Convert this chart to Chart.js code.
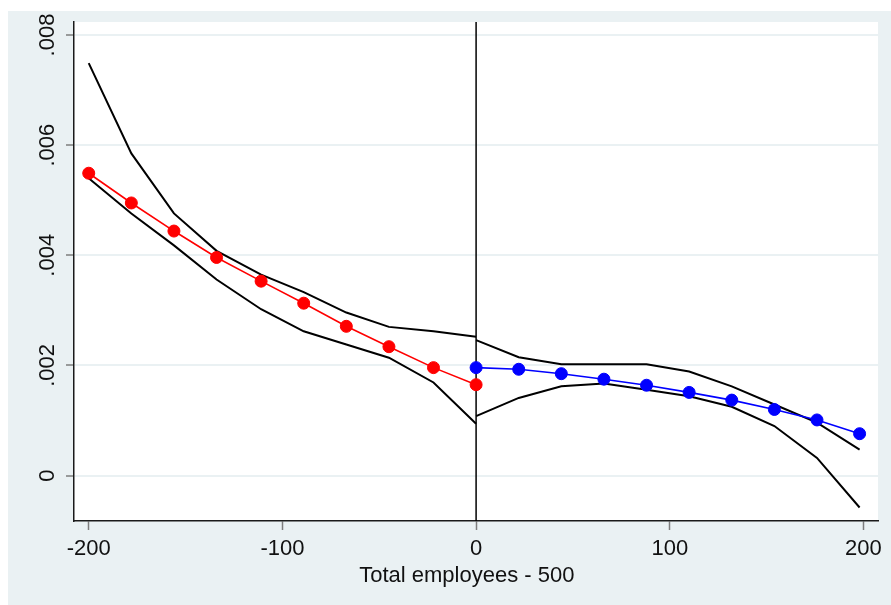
<!DOCTYPE html>
<html>
<head>
<meta charset="utf-8">
<script src="https://cdn.jsdelivr.net/npm/chart.js@4/dist/chart.umd.min.js"></script>
<style>
  html, body { margin: 0; padding: 0; background: #ffffff; }
  #wrap { width: 891px; height: 605px; }
</style>
</head>
<body>
<div id="wrap"><canvas id="c" width="891" height="605"></canvas></div>
<script>
// Bins below the threshold (employees - 500 < 0)
const leftX     = [-200, -178, -156, -134, -111, -89, -67, -45, -22, 0];
const leftMean  = [0.00549, 0.00495, 0.00444, 0.00396, 0.00353, 0.00313, 0.00271, 0.00234, 0.00196, 0.00165];
const leftUpper = [0.00749, 0.00585, 0.00476, 0.00408, 0.00365, 0.00333, 0.00296, 0.00270, 0.00262, 0.00252];
const leftLower = [0.00540, 0.00476, 0.00418, 0.00356, 0.00302, 0.00262, 0.00238, 0.00214, 0.00169, 0.00094];

// Bins above the threshold
const rightX     = [0, 22, 44, 66, 88, 110, 132, 154, 176, 198];
const rightMean  = [0.00196, 0.00193, 0.00185, 0.00175, 0.00164, 0.00151, 0.00137, 0.00120, 0.00101, 0.00076];
const rightUpper = [0.00246, 0.00215, 0.00202, 0.00202, 0.00202, 0.00189, 0.00162, 0.00129, 0.00096, 0.00047];
const rightLower = [0.00108, 0.00141, 0.00162, 0.00167, 0.00156, 0.00144, 0.00125, 0.00090, 0.00032, -0.00058];

// Axis ticks
const xTicks = [-200, -100, 0, 100, 200];
const yTicks = [0, 0.002, 0.004, 0.006, 0.008];
const yTickLabels = ['0', '.002', '.004', '.006', '.008'];

const cutoff = 0;

const panelColor = '#eaf1f3';
const FONT = 'Arial, "Liberation Sans", Helvetica, sans-serif';

const pts = (xs, ys) => xs.map((x, i) => ({ x: x, y: ys[i] }));

const backdrop = {
  id: 'backdrop',
  beforeDraw(chart) {
    const { ctx, chartArea: a } = chart;
    ctx.save();
    ctx.fillStyle = '#ffffff';
    ctx.fillRect(0, 0, chart.width, chart.height);
    ctx.fillStyle = panelColor;
    ctx.fillRect(8, 11, chart.width - 8, chart.height - 11);
    ctx.fillStyle = '#ffffff';
    ctx.fillRect(a.left, a.top, a.right - a.left, a.bottom - a.top);
    ctx.restore();
  }
};

const cutoffLine = {
  id: 'cutoffLine',
  beforeDatasetsDraw(chart) {
    const { ctx, chartArea: a, scales } = chart;
    const px = scales.x.getPixelForValue(cutoff);
    ctx.save();
    ctx.strokeStyle = '#000000';
    ctx.lineWidth = 1.5;
    ctx.beginPath();
    ctx.moveTo(px, a.top);
    ctx.lineTo(px, a.bottom);
    ctx.stroke();
    ctx.restore();
  }
};

const ciStyle = {
  borderColor: '#000000',
  borderWidth: 2,
  pointRadius: 0,
  showLine: true,
  fill: false,
  tension: 0,
  order: 2
};
const meanStyle = (c) => ({
  borderColor: c,
  backgroundColor: c,
  pointBackgroundColor: c,
  pointBorderColor: c,
  borderWidth: 1.6,
  pointRadius: 6,
  pointBorderWidth: 1,
  showLine: true,
  fill: false,
  tension: 0,
  order: 1
});

new Chart(document.getElementById('c'), {
  type: 'scatter',
  data: {
    datasets: [
      Object.assign({ label: 'mean below', data: pts(leftX, leftMean) }, meanStyle('#ff0000')),
      Object.assign({ label: 'mean above', data: pts(rightX, rightMean) }, meanStyle('#0000ff')),
      Object.assign({ label: 'upper below', data: pts(leftX, leftUpper) }, ciStyle),
      Object.assign({ label: 'lower below', data: pts(leftX, leftLower) }, ciStyle),
      Object.assign({ label: 'upper above', data: pts(rightX, rightUpper) }, ciStyle),
      Object.assign({ label: 'lower above', data: pts(rightX, rightLower) }, ciStyle)
    ]
  },
  options: {
    responsive: false,
    animation: false,
    devicePixelRatio: 1,
    layout: { padding: { left: 8, top: 22, right: 13, bottom: 0 } },
    plugins: {
      legend: { display: false },
      tooltip: { enabled: false },
      title: { display: false }
    },
    scales: {
      x: {
        type: 'linear',
        min: -207.6,
        max: 207.5,
        afterBuildTicks(scale) { scale.ticks = xTicks.map(v => ({ value: v })); },
        afterFit(scale) { scale.height = 84; },
        grid: {
          drawOnChartArea: false,
          drawTicks: true,
          tickLength: 9,
          tickColor: '#7d7d7d',
          tickWidth: 1.5
        },
        border: { display: true, color: '#1a1a1a', width: 1.5 },
        ticks: {
          color: '#111111',
          font: { family: FONT, size: 22 },
          padding: 6,
          maxRotation: 0,
          minRotation: 0,
          callback: (v) => String(v)
        },
        title: {
          display: true,
          text: 'Total employees - 500   ',
          color: '#111111',
          font: { family: FONT, size: 22 },
          padding: { top: 0, bottom: 16 }
        }
      },
      y: {
        type: 'linear',
        min: -0.000825,
        max: 0.008236,
        afterBuildTicks(scale) { scale.ticks = yTicks.map(v => ({ value: v })); },
        afterFit(scale) { scale.width = 66; },
        grid: {
          color: panelColor,
          lineWidth: 2,
          drawTicks: true,
          tickLength: 8,
          tickColor: '#7d7d7d',
          tickWidth: 1.5
        },
        border: { display: true, color: '#1a1a1a', width: 1.5 },
        ticks: {
          color: '#111111',
          font: { family: FONT, size: 22 },
          padding: -3,
          minRotation: 90,
          maxRotation: 90,
          crossAlign: 'center',
          callback: (v) => {
            const i = yTicks.indexOf(v);
            return i >= 0 ? yTickLabels[i] : '';
          }
        }
      }
    }
  },
  plugins: [backdrop, cutoffLine]
});
</script>
</body>
</html>
